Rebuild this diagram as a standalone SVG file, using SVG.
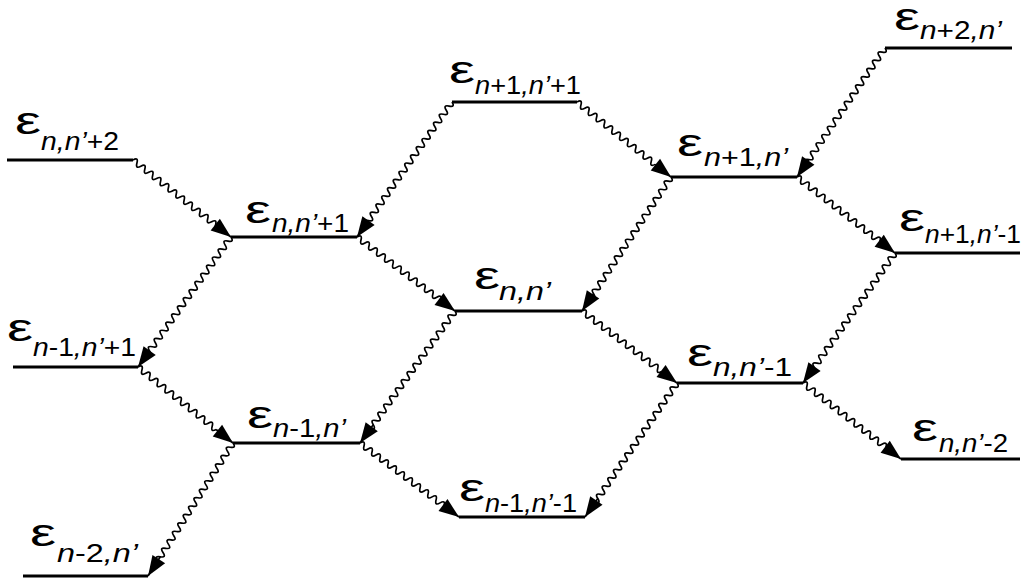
<svg xmlns="http://www.w3.org/2000/svg" xmlns:xlink="http://www.w3.org/1999/xlink" width="1022" height="580" viewBox="0 0 1022 580">
<style>
.lvl{stroke:#000;stroke-width:3;fill:none}
.wv{stroke:#000;stroke-width:1.7;fill:none}
.tip{stroke:#000;stroke-width:1.7;fill:none;marker-end:url(#ah)}
.e{font-family:"Liberation Sans",Arial,sans-serif;font-size:39px;fill:#000}
.s{font-family:"Liberation Sans",Arial,sans-serif;font-size:25px;fill:#000}
.i{font-style:italic}
</style>
<defs>
<marker id="ah" markerUnits="userSpaceOnUse" markerWidth="20" markerHeight="15" refX="20" refY="7.5" orient="auto" overflow="visible"><path d="M0,0 L20,7.5 L0,15 z" fill="#000"/></marker>
<path id="w20" class="wv" d="M0,0q2.5,-6 5,0t5,0 5,0 5,0 5,0 5,0 5,0 5,0 5,0 5,0 5,0 5,0 5,0 5,0 5,0 5,0 5,0 5,0 5,0 5,0"/>
<path id="w21" class="wv" d="M0,0q2.5,-6 5,0t5,0 5,0 5,0 5,0 5,0 5,0 5,0 5,0 5,0 5,0 5,0 5,0 5,0 5,0 5,0 5,0 5,0 5,0 5,0 5,0 5,0"/>
<path id="w27" class="wv" d="M0,0q2.5,-6 5,0t5,0 5,0 5,0 5,0 5,0 5,0 5,0 5,0 5,0 5,0 5,0 5,0 5,0 5,0 5,0 5,0 5,0 5,0 5,0 5,0 5,0 5,0 5,0 5,0 5,0 5,0 5,0"/>
<path id="w28" class="wv" d="M0,0q2.5,-6 5,0t5,0 5,0 5,0 5,0 5,0 5,0 5,0 5,0 5,0 5,0 5,0 5,0 5,0 5,0 5,0 5,0 5,0 5,0 5,0 5,0 5,0 5,0 5,0 5,0 5,0 5,0 5,0 5,0"/>
<path id="w29" class="wv" d="M0,0q2.5,-6 5,0t5,0 5,0 5,0 5,0 5,0 5,0 5,0 5,0 5,0 5,0 5,0 5,0 5,0 5,0 5,0 5,0 5,0 5,0 5,0 5,0 5,0 5,0 5,0 5,0 5,0 5,0 5,0 5,0 5,0"/>
</defs>
<rect width="1022" height="580" fill="#fff"/>

<g id="connectors">
<g transform="translate(133,160) rotate(38.16)"><use xlink:href="#w21"/><path class="tip" d="M105,0H124.6"/></g>
<g transform="translate(452,102) rotate(125.13)"><use xlink:href="#w29"/><path class="tip" d="M145,0H165.1"/></g>
<g transform="translate(577,102) rotate(38.59)"><use xlink:href="#w20"/><path class="tip" d="M100,0H120.3"/></g>
<g transform="translate(885,48) rotate(124.30)"><use xlink:href="#w27"/><path class="tip" d="M135,0H156.2"/></g>
<g transform="translate(231,237) rotate(125.58)"><use xlink:href="#w28"/><path class="tip" d="M140,0H159.8"/></g>
<g transform="translate(357,237) rotate(37.05)"><use xlink:href="#w21"/><path class="tip" d="M105,0H122.8"/></g>
<g transform="translate(671,177) rotate(123.59)"><use xlink:href="#w28"/><path class="tip" d="M140,0H160.9"/></g>
<g transform="translate(797,177) rotate(37.80)"><use xlink:href="#w21"/><path class="tip" d="M105,0H124"/></g>
<g transform="translate(138,367) rotate(38.66)"><use xlink:href="#w20"/><path class="tip" d="M100,0H121.7"/></g>
<g transform="translate(455,311) rotate(125.74)"><use xlink:href="#w28"/><path class="tip" d="M140,0H162.6"/></g>
<g transform="translate(582,311) rotate(37.16)"><use xlink:href="#w20"/><path class="tip" d="M100,0H119.2"/></g>
<g transform="translate(895,253) rotate(125.29)"><use xlink:href="#w28"/><path class="tip" d="M140,0H159.3"/></g>
<g transform="translate(233,443) rotate(122.58)"><use xlink:href="#w27"/><path class="tip" d="M135,0H157.8"/></g>
<g transform="translate(360,443) rotate(36.78)"><use xlink:href="#w21"/><path class="tip" d="M105,0H123.6"/></g>
<g transform="translate(677,383) rotate(124.47)"><use xlink:href="#w28"/><path class="tip" d="M140,0H162.5"/></g>
<g transform="translate(803,383) rotate(37.80)"><use xlink:href="#w21"/><path class="tip" d="M105,0H124"/></g>
</g>

<g id="lv-n-np2"><line class="lvl" x1="7" y1="160" x2="133" y2="160"/>
<text class="e" x="15" y="134" textLength="26" lengthAdjust="spacingAndGlyphs">ε</text>
<text class="s" x="41" y="150" textLength="78" lengthAdjust="spacingAndGlyphs"><tspan class="i">n,n’</tspan>+2</text></g>

<g id="lv-np1-np1"><line class="lvl" x1="452" y1="102" x2="577" y2="102"/>
<text class="e" x="449" y="83" textLength="26" lengthAdjust="spacingAndGlyphs">ε</text>
<text class="s" x="475" y="94" textLength="106" lengthAdjust="spacingAndGlyphs"><tspan class="i">n</tspan>+1<tspan class="i">,n’</tspan>+1</text></g>

<g id="lv-np2-n"><line class="lvl" x1="885" y1="48" x2="1012" y2="48"/>
<text class="e" x="894" y="30" textLength="26" lengthAdjust="spacingAndGlyphs">ε</text>
<text class="s" x="920" y="39" textLength="82" lengthAdjust="spacingAndGlyphs"><tspan class="i">n</tspan>+2<tspan class="i">,n’</tspan></text></g>

<g id="lv-n-np1"><line class="lvl" x1="231" y1="237" x2="357" y2="237"/>
<text class="e" x="245" y="223" textLength="26" lengthAdjust="spacingAndGlyphs">ε</text>
<text class="s" x="272" y="232" textLength="77" lengthAdjust="spacingAndGlyphs"><tspan class="i">n,n’</tspan>+1</text></g>

<g id="lv-np1-n"><line class="lvl" x1="671" y1="177" x2="797" y2="177"/>
<text class="e" x="677" y="156" textLength="26" lengthAdjust="spacingAndGlyphs">ε</text>
<text class="s" x="704" y="166" textLength="84" lengthAdjust="spacingAndGlyphs"><tspan class="i">n</tspan>+1<tspan class="i">,n’</tspan></text></g>

<g id="lv-nm1-np1"><line class="lvl" x1="13" y1="367" x2="138" y2="367"/>
<text class="e" x="7" y="341" textLength="26" lengthAdjust="spacingAndGlyphs">ε</text>
<text class="s" x="33" y="356" textLength="103" lengthAdjust="spacingAndGlyphs"><tspan class="i">n</tspan>-1<tspan class="i">,n’</tspan>+1</text></g>

<g id="lv-n-n"><line class="lvl" x1="455" y1="311" x2="582" y2="311"/>
<text class="e" x="474" y="289" textLength="26" lengthAdjust="spacingAndGlyphs">ε</text>
<text class="s" x="499" y="300" textLength="52" lengthAdjust="spacingAndGlyphs"><tspan class="i">n,n’</tspan></text></g>

<g id="lv-np1-nm1"><line class="lvl" x1="895" y1="253" x2="1020" y2="253"/>
<text class="e" x="899" y="231" textLength="26" lengthAdjust="spacingAndGlyphs">ε</text>
<text class="s" x="925" y="243" textLength="96" lengthAdjust="spacingAndGlyphs"><tspan class="i">n</tspan>+1<tspan class="i">,n’</tspan>-1</text></g>

<g id="lv-nm1-n"><line class="lvl" x1="233" y1="443" x2="360" y2="443"/>
<text class="e" x="247" y="428" textLength="26" lengthAdjust="spacingAndGlyphs">ε</text>
<text class="s" x="273" y="437" textLength="73" lengthAdjust="spacingAndGlyphs"><tspan class="i">n</tspan>-1<tspan class="i">,n’</tspan></text></g>

<g id="lv-n-nm1"><line class="lvl" x1="677" y1="383" x2="803" y2="383"/>
<text class="e" x="687" y="366" textLength="26" lengthAdjust="spacingAndGlyphs">ε</text>
<text class="s" x="713" y="376" textLength="79" lengthAdjust="spacingAndGlyphs"><tspan class="i">n,n’</tspan>-1</text></g>

<g id="lv-n-nm2"><line class="lvl" x1="901" y1="459" x2="1020" y2="459"/>
<text class="e" x="912" y="441" textLength="26" lengthAdjust="spacingAndGlyphs">ε</text>
<text class="s" x="939" y="452" textLength="69" lengthAdjust="spacingAndGlyphs"><tspan class="i">n,n’</tspan>-2</text></g>

<g id="lv-nm1-nm1"><line class="lvl" x1="459" y1="517" x2="585" y2="517"/>
<text class="e" x="459" y="501" textLength="26" lengthAdjust="spacingAndGlyphs">ε</text>
<text class="s" x="485" y="512" textLength="92" lengthAdjust="spacingAndGlyphs"><tspan class="i">n</tspan>-1<tspan class="i">,n’</tspan>-1</text></g>

<g id="lv-nm2-n"><line class="lvl" x1="23" y1="576" x2="148" y2="576"/>
<text class="e" x="30" y="546" textLength="26" lengthAdjust="spacingAndGlyphs">ε</text>
<text class="s" x="57" y="562" textLength="81" lengthAdjust="spacingAndGlyphs"><tspan class="i">n</tspan>-2<tspan class="i">,n’</tspan></text></g>
</svg>
